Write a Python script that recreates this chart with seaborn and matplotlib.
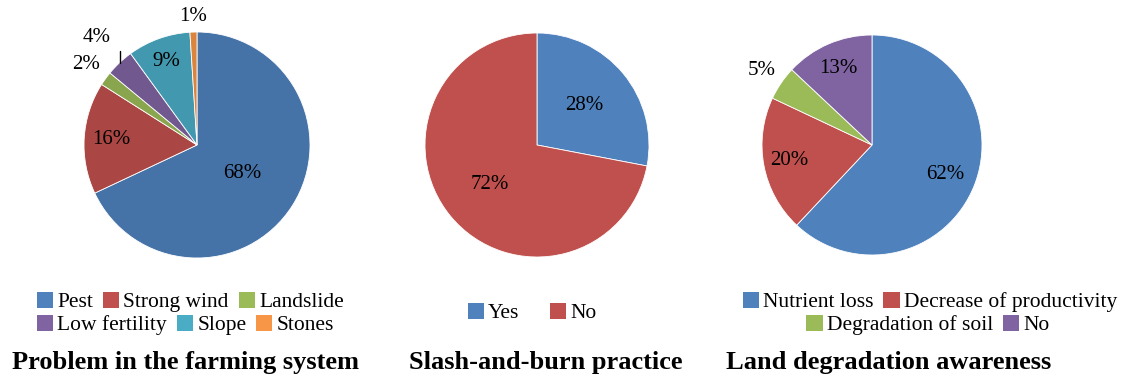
import numpy as np
import matplotlib
matplotlib.use('Agg')
import matplotlib.pyplot as plt
import seaborn as sns
from matplotlib.patches import Patch

sns.set_theme(style='white')
plt.rcParams['font.family'] = ['Liberation Serif', 'DejaVu Serif']
plt.rcParams['text.color'] = 'black'

# data
farm_labels = ['Pest', 'Strong wind', 'Landslide', 'Low fertility', 'Slope', 'Stones']
farm_values = [68, 16, 2, 4, 9, 1]
slash_labels = ['Yes', 'No']
slash_values = [28, 72]
land_labels = ['Nutrient loss', 'Decrease of productivity', 'Degradation of soil', 'No']
land_values = [62, 20, 5, 13]

# colours (Excel style)
legend_cols = ['#4F81BD', '#C0504D', '#9BBB59', '#8064A2', '#4BACC6', '#F79646']
farm_cols = ['#4572A7', '#AA4643', '#89A54E', '#71588F', '#4198AF', '#DB843D']

W, H = 1121, 378
fig = plt.figure(figsize=(W / 100, H / 100), dpi=100)


def pie_axes(cx, cy, r):
    return fig.add_axes([(cx - r) / W, (H - cy - r) / H, 2 * r / W, 2 * r / H])


def draw_pie(ax, values, colors, dists, leader=None):
    wedges, _ = ax.pie(values, colors=colors, startangle=90, counterclock=False,
                       radius=1, wedgeprops=dict(edgecolor='white', linewidth=0.6))
    for i, (w, v, d) in enumerate(zip(wedges, values, dists)):
        ang = np.deg2rad((w.theta1 + w.theta2) / 2)
        tx, ty = d * np.cos(ang), d * np.sin(ang)
        ax.text(tx, ty, f'{v}%', ha='center', va='center', fontsize=15, color='black')
        if leader is not None and i == leader:
            ex, ey = np.cos(ang), np.sin(ang)
            ax.plot([ex, ex], [ey, ty - 0.12], color='black', lw=1, clip_on=False)
    ax.set_xlim(-1, 1)
    ax.set_ylim(-1, 1)
    ax.set_aspect('equal')
    ax.axis('off')


def add_legend(labels, colors, x, y, loc, ncol, colsp):
    handles = [Patch(facecolor=c, edgecolor='none', label=l) for l, c in zip(labels, colors)]
    fig.legend(handles=handles, loc=loc, bbox_to_anchor=(x / W, 1 - y / H), ncol=ncol,
               frameon=False, fontsize=15.5, handlelength=0.75, handleheight=0.75,
               handletextpad=0.2, columnspacing=colsp, borderpad=0, borderaxespad=0)


# Problem in the farming system
ax1 = pie_axes(197, 145, 113)
draw_pie(ax1, farm_values, farm_cols, [0.47, 0.76, 1.21, 1.30, 0.79, 1.14], leader=3)
add_legend(farm_labels[:3], legend_cols[:3], 37, 302, 'center left', 3, 0.45)
add_legend(farm_labels[3:], legend_cols[3:], 37, 325, 'center left', 3, 0.45)
fig.text(185 / W, 1 - 362 / H, 'Problem in the farming system', ha='center', va='center',
         fontsize=19, fontweight='bold')

# Slash-and-burn practice
ax2 = pie_axes(537, 145, 112)
draw_pie(ax2, slash_values, legend_cols[:2], [0.55, 0.55])
add_legend(slash_labels, legend_cols[:2], 532, 313, 'center', 2, 1.4)
fig.text(546 / W, 1 - 362 / H, 'Slash-and-burn practice', ha='center', va='center',
         fontsize=19, fontweight='bold')

# Land degradation awareness
ax3 = pie_axes(872, 145, 110)
draw_pie(ax3, land_values, legend_cols[:4], [0.72, 0.77, 1.21, 0.76])
add_legend(land_labels[:2], legend_cols[:2], 930, 302, 'center', 2, 0.45)
add_legend(land_labels[2:], legend_cols[2:4], 928, 325, 'center', 2, 0.45)
fig.text(889 / W, 1 - 362 / H, 'Land degradation awareness', ha='center', va='center',
         fontsize=19, fontweight='bold')

fig.savefig('out.png', dpi=100, facecolor='white')
